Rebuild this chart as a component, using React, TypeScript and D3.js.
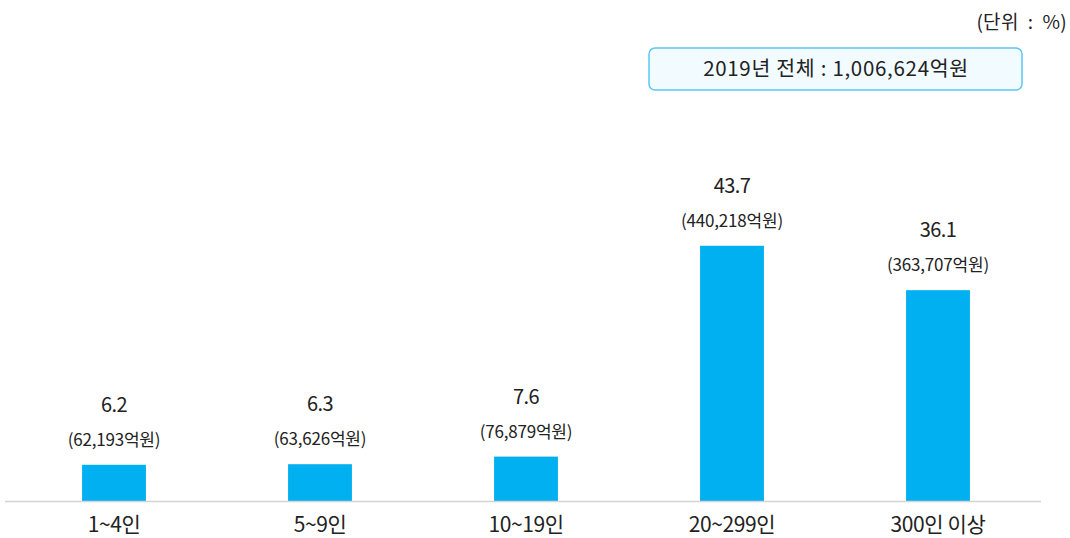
import React from 'react';
import * as d3 from 'd3';

const width = 1070;
const height = 538;
const baseY = 501;

const categories = ['1~4인', '5~9인', '10~19인', '20~299인', '300인 이상'];
const shares = [6.2, 6.3, 7.6, 43.7, 36.1];
const amounts = ['62,193', '63,626', '76,879', '440,218', '363,707'];
const unitLabel = '(단위  :  %)';
const totalLabel = '2019년 전체 : 1,006,624억원';

const barColor = '#00b0f0';
const font = '"Noto Sans CJK KR", "Noto Sans", sans-serif';

export default function App() {
  const x = d3.scaleBand<string>().domain(categories).range([11, 1041]).paddingInner(0.69).paddingOuter(0.345);
  const y = d3.scaleLinear().domain([0, 50]).range([baseY, baseY - 50 * 5.84]);

  return (
    <svg width={width} height={height} style={{ position: 'absolute', left: 0, top: 0 }} fontFamily={font}>
      <rect width={width} height={height} fill="#fff" />
      <text x={1067} y={29} textAnchor="end" fontSize={19} fill="#222" letterSpacing={0.3} style={{ whiteSpace: 'pre' }}>
        {unitLabel}
      </text>
      <rect x={649} y={48} width={373} height={42} rx={6} fill="#f2fbff" stroke="#5bc8f2" strokeWidth={1.5} />
      <text x={836} y={76} textAnchor="middle" fontSize={20.5} fill="#222" letterSpacing={0.7}>
        {totalLabel}
      </text>
      {categories.map((c, i) => {
        const bx = x(c) as number;
        const cx = bx + x.bandwidth() / 2;
        const top = y(shares[i]);
        return (
          <g key={c}>
            <rect x={bx} y={top} width={x.bandwidth()} height={baseY - top} fill={barColor} />
            <text x={cx} y={top - 53} textAnchor="middle" fontSize={20} fill="#222" letterSpacing={-0.6}>
              {shares[i]}
            </text>
            <text x={cx} y={top - 19} textAnchor="middle" fontSize={17} fill="#222" letterSpacing={-0.2}>
              {`(${amounts[i]}억원)`}
            </text>
            <text x={cx} y={532} textAnchor="middle" fontSize={21} fill="#222" letterSpacing={-0.4}>
              {c}
            </text>
          </g>
        );
      })}
      <line x1={5} x2={1041} y1={baseY + 0.5} y2={baseY + 0.5} stroke="#d4d4d4" strokeWidth={1.5} />
    </svg>
  );
}
